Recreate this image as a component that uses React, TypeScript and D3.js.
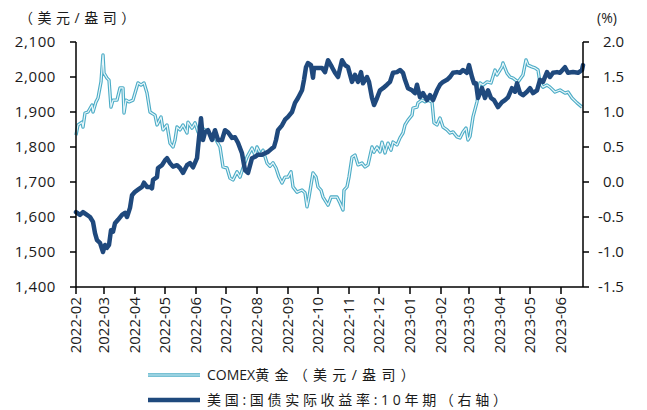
import React from "react";
import * as d3 from "d3";

// COMEX gold, USD/oz (left axis)
const goldSeries: [string, number][] = [
  ["2022-02-01", 1834], ["2022-02-03", 1863], ["2022-02-07", 1871], ["2022-02-08", 1857],
  ["2022-02-10", 1897], ["2022-02-13", 1900], ["2022-02-17", 1920], ["2022-02-18", 1900],
  ["2022-02-21", 1929], ["2022-02-23", 1940], ["2022-02-26", 1986], ["2022-02-28", 2063],
  ["2022-03-01", 2011], ["2022-03-04", 1997], ["2022-03-06", 1991], ["2022-03-08", 1914],
  ["2022-03-10", 1934], ["2022-03-14", 1934], ["2022-03-17", 1969], ["2022-03-20", 1969],
  ["2022-03-21", 1897], ["2022-03-23", 1934], ["2022-03-26", 1929], ["2022-03-30", 1934],
  ["2022-04-04", 1983], ["2022-04-07", 1977], ["2022-04-10", 1983], ["2022-04-13", 1954],
  ["2022-04-16", 1900], ["2022-04-21", 1891], ["2022-04-23", 1863], ["2022-04-27", 1886],
  ["2022-04-29", 1849], ["2022-05-03", 1863], ["2022-05-06", 1811], ["2022-05-09", 1800],
  ["2022-05-11", 1820], ["2022-05-13", 1857], ["2022-05-16", 1849], ["2022-05-19", 1863],
  ["2022-05-23", 1840], ["2022-05-24", 1871], ["2022-05-28", 1854], ["2022-05-31", 1869],
  ["2022-06-03", 1843], ["2022-06-07", 1854], ["2022-06-10", 1849], ["2022-06-13", 1843],
  ["2022-06-20", 1826], ["2022-06-25", 1800], ["2022-06-28", 1743], ["2022-07-02", 1740],
  ["2022-07-05", 1711], ["2022-07-08", 1706], ["2022-07-12", 1729], ["2022-07-15", 1714],
  ["2022-07-18", 1740], ["2022-07-22", 1771], ["2022-07-27", 1797], ["2022-07-30", 1777],
  ["2022-08-01", 1800], ["2022-08-05", 1777], ["2022-08-07", 1791], ["2022-08-11", 1754],
  ["2022-08-14", 1745], ["2022-08-17", 1755], ["2022-08-20", 1740], ["2022-08-23", 1714],
  ["2022-08-26", 1697], ["2022-08-29", 1714], ["2022-09-01", 1714], ["2022-09-04", 1729],
  ["2022-09-06", 1686], ["2022-09-10", 1671], ["2022-09-15", 1677], ["2022-09-18", 1669],
  ["2022-09-20", 1629], ["2022-09-22", 1657], ["2022-09-26", 1726], ["2022-09-29", 1714],
  ["2022-10-01", 1686], ["2022-10-04", 1677], ["2022-10-06", 1657], ["2022-10-09", 1643],
  ["2022-10-11", 1634], ["2022-10-14", 1657], ["2022-10-17", 1657], ["2022-10-20", 1657],
  ["2022-10-23", 1640], ["2022-10-26", 1620], ["2022-10-27", 1677], ["2022-10-30", 1686],
  ["2022-11-01", 1714], ["2022-11-04", 1771], ["2022-11-07", 1777], ["2022-11-10", 1749],
  ["2022-11-14", 1754], ["2022-11-17", 1743], ["2022-11-20", 1749], ["2022-11-24", 1800],
  ["2022-11-26", 1785], ["2022-11-29", 1800], ["2022-12-02", 1786], ["2022-12-04", 1814],
  ["2022-12-07", 1783], ["2022-12-10", 1811], ["2022-12-13", 1791], ["2022-12-15", 1814],
  ["2022-12-19", 1806], ["2022-12-22", 1826], ["2022-12-25", 1840], ["2022-12-27", 1863],
  ["2022-12-30", 1877], ["2023-01-03", 1891], ["2023-01-04", 1911], ["2023-01-08", 1914],
  ["2023-01-09", 1926], ["2023-01-13", 1934], ["2023-01-16", 1929], ["2023-01-19", 1934],
  ["2023-01-23", 1929], ["2023-01-25", 1869], ["2023-01-28", 1863], ["2023-01-31", 1883],
  ["2023-02-03", 1857], ["2023-02-07", 1849], ["2023-02-10", 1840], ["2023-02-13", 1843],
  ["2023-02-17", 1829], ["2023-02-20", 1826], ["2023-02-23", 1843], ["2023-02-26", 1854],
  ["2023-02-28", 1820], ["2023-03-02", 1830], ["2023-03-05", 1886], ["2023-03-09", 1929],
  ["2023-03-12", 1983], ["2023-03-15", 1977], ["2023-03-19", 1986], ["2023-03-23", 1983],
  ["2023-03-27", 2020], ["2023-03-29", 2006], ["2023-04-03", 2029], ["2023-04-04", 2040],
  ["2023-04-08", 2011], ["2023-04-11", 2000], ["2023-04-14", 1997], ["2023-04-19", 1986],
  ["2023-04-24", 2006], ["2023-04-27", 2049], ["2023-04-29", 2034], ["2023-05-03", 2029],
  ["2023-05-06", 2026], ["2023-05-09", 2020], ["2023-05-11", 1983], ["2023-05-14", 1971],
  ["2023-05-18", 1977], ["2023-05-21", 1971], ["2023-05-26", 1957], ["2023-05-31", 1963],
  ["2023-06-05", 1954], ["2023-06-08", 1957], ["2023-06-12", 1940], ["2023-06-17", 1926],
  ["2023-06-22", 1914],
];

// US 10Y real yield, % (right axis)
const yieldSeries: [string, number][] = [
  ["2022-02-01", -0.43], ["2022-02-05", -0.47], ["2022-02-08", -0.43], ["2022-02-12", -0.47],
  ["2022-02-15", -0.5], ["2022-02-18", -0.57], ["2022-02-20", -0.73], ["2022-02-22", -0.83],
  ["2022-02-25", -0.87], ["2022-02-28", -1.0], ["2022-03-02", -0.9], ["2022-03-04", -0.94],
  ["2022-03-06", -0.9], ["2022-03-08", -0.69], ["2022-03-10", -0.71], ["2022-03-12", -0.59],
  ["2022-03-15", -0.54], ["2022-03-19", -0.47], ["2022-03-22", -0.44], ["2022-03-24", -0.5],
  ["2022-03-27", -0.37], ["2022-03-29", -0.19], ["2022-04-01", -0.14], ["2022-04-04", -0.11],
  ["2022-04-08", -0.07], ["2022-04-10", -0.01], ["2022-04-13", -0.07], ["2022-04-16", -0.07],
  ["2022-04-18", -0.09], ["2022-04-19", 0.03], ["2022-04-23", 0.07], ["2022-04-24", 0.2],
  ["2022-04-28", 0.24], ["2022-05-01", 0.31], ["2022-05-03", 0.34], ["2022-05-06", 0.27],
  ["2022-05-09", 0.22], ["2022-05-13", 0.24], ["2022-05-16", 0.2], ["2022-05-19", 0.13],
  ["2022-05-23", 0.24], ["2022-05-26", 0.27], ["2022-05-29", 0.21], ["2022-06-02", 0.34],
  ["2022-06-03", 0.49], ["2022-06-06", 0.91], ["2022-06-08", 0.6], ["2022-06-10", 0.71],
  ["2022-06-13", 0.74], ["2022-06-17", 0.6], ["2022-06-20", 0.74], ["2022-06-23", 0.6],
  ["2022-06-27", 0.6], ["2022-06-30", 0.74], ["2022-07-03", 0.71], ["2022-07-07", 0.63],
  ["2022-07-10", 0.64], ["2022-07-13", 0.56], ["2022-07-17", 0.41], ["2022-07-20", 0.17],
  ["2022-07-23", 0.13], ["2022-07-27", 0.34], ["2022-07-30", 0.36], ["2022-08-02", 0.39],
  ["2022-08-06", 0.39], ["2022-08-09", 0.41], ["2022-08-12", 0.43], ["2022-08-16", 0.48],
  ["2022-08-18", 0.5], ["2022-08-20", 0.6], ["2022-08-22", 0.74], ["2022-08-26", 0.81],
  ["2022-08-29", 0.89], ["2022-09-01", 0.93], ["2022-09-05", 1.0], ["2022-09-08", 1.13],
  ["2022-09-11", 1.2], ["2022-09-15", 1.31], ["2022-09-17", 1.46], ["2022-09-19", 1.64],
  ["2022-09-21", 1.7], ["2022-09-24", 1.67], ["2022-09-26", 1.49], ["2022-09-27", 1.63],
  ["2022-09-30", 1.63], ["2022-10-05", 1.63], ["2022-10-08", 1.57], ["2022-10-11", 1.74],
  ["2022-10-15", 1.64], ["2022-10-18", 1.56], ["2022-10-21", 1.5], ["2022-10-25", 1.74],
  ["2022-10-28", 1.67], ["2022-10-31", 1.64], ["2022-11-04", 1.43], ["2022-11-07", 1.53],
  ["2022-11-10", 1.43], ["2022-11-13", 1.57], ["2022-11-15", 1.41], ["2022-11-19", 1.5],
  ["2022-11-21", 1.43], ["2022-11-24", 1.2], ["2022-11-26", 1.1], ["2022-11-29", 1.2],
  ["2022-12-02", 1.31], ["2022-12-05", 1.34], ["2022-12-09", 1.39], ["2022-12-12", 1.43],
  ["2022-12-15", 1.56], ["2022-12-19", 1.57], ["2022-12-22", 1.6], ["2022-12-25", 1.56],
  ["2022-12-27", 1.46], ["2022-12-30", 1.34], ["2023-01-03", 1.31], ["2023-01-06", 1.27],
  ["2023-01-08", 1.39], ["2023-01-11", 1.21], ["2023-01-14", 1.27], ["2023-01-18", 1.17],
  ["2023-01-21", 1.24], ["2023-01-24", 1.17], ["2023-01-28", 1.31], ["2023-01-31", 1.39],
  ["2023-02-03", 1.43], ["2023-02-07", 1.46], ["2023-02-10", 1.5], ["2023-02-13", 1.56],
  ["2023-02-17", 1.57], ["2023-02-20", 1.56], ["2023-02-23", 1.6], ["2023-02-27", 1.56],
  ["2023-03-01", 1.67], ["2023-03-04", 1.5], ["2023-03-06", 1.41], ["2023-03-08", 1.41],
  ["2023-03-10", 1.2], ["2023-03-14", 1.34], ["2023-03-17", 1.2], ["2023-03-20", 1.31],
  ["2023-03-23", 1.2], ["2023-03-26", 1.17], ["2023-03-30", 1.07], ["2023-04-03", 1.14],
  ["2023-04-06", 1.17], ["2023-04-09", 1.21], ["2023-04-13", 1.34], ["2023-04-16", 1.29],
  ["2023-04-18", 1.41], ["2023-04-21", 1.27], ["2023-04-24", 1.24], ["2023-04-28", 1.29],
  ["2023-05-01", 1.34], ["2023-05-04", 1.27], ["2023-05-08", 1.31], ["2023-05-11", 1.46],
  ["2023-05-14", 1.43], ["2023-05-18", 1.57], ["2023-05-21", 1.5], ["2023-05-24", 1.56],
  ["2023-05-28", 1.57], ["2023-05-31", 1.56], ["2023-06-05", 1.64], ["2023-06-08", 1.56],
  ["2023-06-13", 1.57], ["2023-06-18", 1.56], ["2023-06-22", 1.6], ["2023-06-23", 1.67],
];

const leftTicks = [1400, 1500, 1600, 1700, 1800, 1900, 2000, 2100];
const rightTicks = [-1.5, -1.0, -0.5, 0.0, 0.5, 1.0, 1.5, 2.0];
const monthTicks = [
  "2022-02", "2022-03", "2022-04", "2022-05", "2022-06", "2022-07", "2022-08", "2022-09",
  "2022-10", "2022-11", "2022-12", "2023-01", "2023-02", "2023-03", "2023-04", "2023-05", "2023-06",
];
// legend labels, split so the latin part keeps normal spacing
const legendGold = ["COMEX", "黄金（美元/盎司）"];
const legendYield = ["美国:国债实际收益率:10年期（右轴）"];

const W = 647, H = 410;
const M = { left: 76, right: 583, top: 42, bottom: 287 };
const GOLD = "#4bacc6";
const NAVY = "#1f497d";
const FONT = "'Open Sans', 'Noto Sans CJK SC', sans-serif";
const TXT = "#1a1a1a";

const parse = d3.timeParse("%Y-%m-%d");
const parseMonth = d3.timeParse("%Y-%m");

export default function App() {
  const x = d3.scaleTime()
    .domain([parse("2022-02-01")!, parse("2023-06-23")!])
    .range([M.left, M.right]);
  const yL = d3.scaleLinear().domain([1400, 2100]).range([M.bottom, M.top]);
  const yR = d3.scaleLinear().domain([-1.5, 2.0]).range([M.bottom, M.top]);

  const goldLine = d3.line<[string, number]>()
    .x((d) => x(parse(d[0])!))
    .y((d) => yL(d[1]));
  const yieldLine = d3.line<[string, number]>()
    .x((d) => x(parse(d[0])!))
    .y((d) => yR(d[1]));

  const fmtL = d3.format(",");
  const fmtR = (v: number) => v.toFixed(1);

  return (
    <svg width={W} height={H} style={{ position: "absolute", left: 0, top: 0, background: "#fff" }}
      fontFamily={FONT}>
      {/* unit labels */}
      <text x={19} y={23} fontSize={14} letterSpacing={4.5} fill={TXT}>（美元/盎司）</text>
      <text x={597} y={23} fontSize={14} fill={TXT}>(%)</text>

      {/* series */}
      <path d={goldLine(goldSeries)!} fill="none" stroke={GOLD} strokeWidth={3.4} strokeLinejoin="round" />
      <path d={goldLine(goldSeries)!} fill="none" stroke="#e8f5f9" strokeWidth={1.2} strokeLinejoin="round" />
      <path d={yieldLine(yieldSeries)!} fill="none" stroke={NAVY} strokeWidth={4.5} strokeLinejoin="round" strokeLinecap="round" />

      {/* left axis */}
      <line x1={M.left} x2={M.left} y1={M.top} y2={M.bottom} stroke="#000" strokeWidth={1.5} />
      {leftTicks.map((t) => (
        <g key={t}>
          <line x1={M.left - 6} x2={M.left} y1={yL(t)} y2={yL(t)} stroke="#000" strokeWidth={1.5} />
          <text x={56} y={yL(t)} dy="0.35em" textAnchor="end" fontSize={15} letterSpacing={0.6} fill={TXT}>{fmtL(t)}</text>
        </g>
      ))}

      {/* right axis */}
      <line x1={M.right} x2={M.right} y1={M.top} y2={M.bottom} stroke="#000" strokeWidth={1.5} />
      {rightTicks.map((t) => (
        <g key={t}>
          <line x1={M.right} x2={M.right + 6} y1={yR(t)} y2={yR(t)} stroke="#000" strokeWidth={1.5} />
          <text x={t < 0 ? 598 : 603} y={yR(t)} dy="0.35em" fontSize={15} fill={TXT}>{fmtR(t)}</text>
        </g>
      ))}

      {/* bottom axis */}
      <line x1={M.left} x2={M.right} y1={M.bottom} y2={M.bottom} stroke="#000" strokeWidth={1.5} />
      {monthTicks.map((m) => {
        const px = x(parseMonth(m)!);
        return (
          <g key={m}>
            <line x1={px} x2={px} y1={M.bottom} y2={M.bottom + 7} stroke="#000" strokeWidth={1.5} />
            <text transform={`translate(${px},${M.bottom + 10}) rotate(-90)`} dy="0.35em"
              textAnchor="end" fontSize={15} fill={TXT}>{m}</text>
          </g>
        );
      })}

      {/* legend */}
      <line x1={148} x2={200} y1={375} y2={375} stroke={GOLD} strokeWidth={3.4} />
      <line x1={148} x2={200} y1={375} y2={375} stroke="#e8f5f9" strokeWidth={1.2} />
      <text x={207} y={375} dy="0.35em" fontSize={14} fill={TXT}>
        <tspan>{legendGold[0]}</tspan>
        <tspan letterSpacing={5.3}>{legendGold[1]}</tspan>
      </text>
      <line x1={148} x2={200} y1={400} y2={400} stroke={NAVY} strokeWidth={4.5} />
      <text x={207} y={400} dy="0.35em" fontSize={14} letterSpacing={3.7} fill={TXT}>{legendYield[0]}</text>
    </svg>
  );
}
